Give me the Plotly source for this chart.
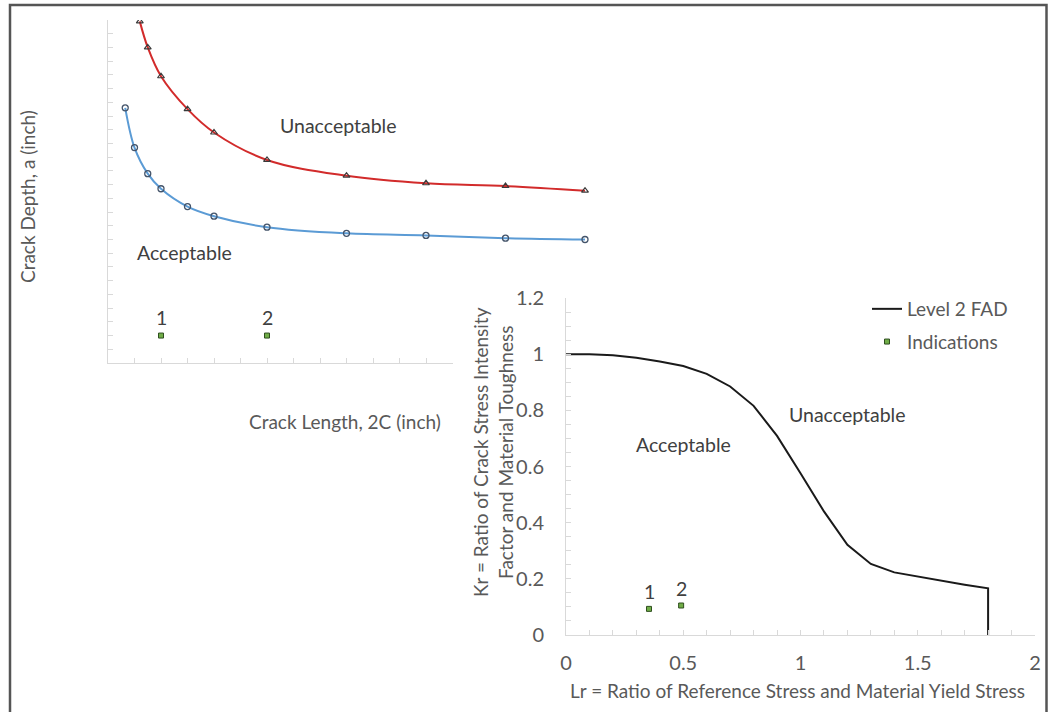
import plotly.graph_objects as go

W, H = 1053, 712

# ---------------- Chart 1: crack size acceptance curves ----------------
upper_len = [1.2, 1.5, 2, 3, 4, 6, 9, 12, 15, 18]
upper_depth = [0.249, 0.230, 0.209, 0.185, 0.168, 0.148, 0.1365, 0.131, 0.129, 0.1256]
lower_len = [0.65, 1, 1.5, 2, 3, 4, 6, 9, 12, 15, 18]
lower_depth = [0.186, 0.157, 0.138, 0.127, 0.114, 0.107, 0.099, 0.0945, 0.093, 0.091, 0.090]
ind1_len = [2, 6]
ind1_depth = [0.02, 0.02]
ind_labels = ["1", "2"]

# ---------------- Chart 2: Level 2 FAD ----------------
fad_lr = [0, 0.1, 0.2, 0.3, 0.4, 0.5, 0.6, 0.7, 0.8, 0.9, 1.0, 1.1, 1.2, 1.3, 1.4,
          1.5, 1.6, 1.7, 1.8, 1.8]
fad_kr = [1.0, 1.0, 0.996, 0.987, 0.974, 0.958, 0.930, 0.885, 0.816, 0.709, 0.576,
          0.440, 0.321, 0.253, 0.223, 0.208, 0.194, 0.179, 0.166, 0.0]
ind2_lr = [0.354, 0.491]
ind2_kr = [0.093, 0.105]

FONT = "Lato"
FS = 19
FS_TICK = 20
FS_ANN = 19.5
GRAY_TXT = "#595959"
DARK_TXT = "#404040"
AXIS_CLR = "#d9d9d9"


def px_x(v):
    return v / W


def px_y(v):
    return 1 - v / H


fig = go.Figure()

# chart 1 traces
fig.add_trace(go.Scatter(
    x=upper_len, y=upper_depth, mode="lines+markers", line_shape="spline",
    line=dict(color="#d22b2b", width=2),
    marker=dict(symbol="triangle-up-open", size=6, color="#3a3a3a", line=dict(width=1.2)),
    showlegend=False, xaxis="x", yaxis="y", hoverinfo="skip"))
fig.add_trace(go.Scatter(
    x=lower_len, y=lower_depth, mode="lines+markers", line_shape="spline",
    line=dict(color="#5b9bd5", width=2),
    marker=dict(symbol="circle-open", size=6, color="#44546a", line=dict(width=1.3)),
    showlegend=False, xaxis="x", yaxis="y", hoverinfo="skip"))
fig.add_trace(go.Scatter(
    x=ind1_len, y=ind1_depth, mode="markers",
    marker=dict(symbol="square", size=5, color="#70ad47", line=dict(color="#2f4f1f", width=1)),
    showlegend=False, xaxis="x", yaxis="y", hoverinfo="skip"))
# empty trace so the visible chart-1 length axis is drawn
fig.add_trace(go.Scatter(x=[], y=[], xaxis="x3", yaxis="y", showlegend=False))

# chart 2 traces
fig.add_trace(go.Scatter(
    x=fad_lr, y=fad_kr, mode="lines", name="Level 2 FAD",
    line=dict(color="#1a1a1a", width=2), xaxis="x2", yaxis="y2",
    legendgroup="fad"))
fig.add_trace(go.Scatter(
    x=ind2_lr, y=ind2_kr, mode="markers", name="Indications",
    marker=dict(symbol="square", size=5, color="#70ad47", line=dict(color="#2f4f1f", width=1)),
    xaxis="x2", yaxis="y2", legendgroup="ind"))

x1_left, x1_right = 108, 620
unit_x1 = 26.5
y1_bot, y1_top = 363, 20

common = dict(showline=True, linecolor=AXIS_CLR, linewidth=1, ticks="inside", ticklen=5,
              tickcolor=AXIS_CLR, showgrid=False, zeroline=False, automargin=False)

fig.update_layout(
    template="none",
    width=W, height=H,
    margin=dict(l=0, r=0, t=0, b=0, pad=0, autoexpand=False),
    paper_bgcolor="white", plot_bgcolor="rgba(0,0,0,0)",
    font=dict(family=FONT, color=GRAY_TXT, size=FS),
    xaxis=dict(domain=[px_x(x1_left), px_x(x1_right)],
               range=[0, (x1_right - x1_left) / unit_x1],
               visible=False, anchor="y", automargin=False),
    xaxis3=dict(domain=[px_x(x1_left), px_x(453)], range=[0, 13], anchor="y",
                dtick=1, showticklabels=False, **common),
    yaxis=dict(domain=[px_y(y1_bot), px_y(y1_top)], range=[0, 0.25], anchor="x",
               dtick=0.01, showticklabels=False, **common),
    xaxis2=dict(domain=[px_x(566), px_x(1035)], range=[0, 2], anchor="y2", dtick=0.5,
                minor=dict(dtick=0.1, ticks="inside", ticklen=5, tickcolor=AXIS_CLR),
                tickfont=dict(size=FS_TICK, color=GRAY_TXT), ticklabelstandoff=10,
                **common),
    yaxis2=dict(domain=[px_y(635), px_y(298)], range=[0, 1.2], anchor="x2", dtick=0.2,
                minor=dict(dtick=0.05, ticks="inside", ticklen=5, tickcolor=AXIS_CLR),
                tickfont=dict(size=FS_TICK, color=GRAY_TXT), ticklabelstandoff=17,
                tickformat="~g", **common),
    legend=dict(x=px_x(867), y=px_y(290), xanchor="left", yanchor="top",
                bgcolor="rgba(0,0,0,0)", borderwidth=0, font=dict(size=FS, color=GRAY_TXT),
                traceorder="grouped", tracegroupgap=5),
    showlegend=True,
)

ann = []


def text_ann(x, y, text, xref="paper", yref="paper", color=GRAY_TXT, size=FS, **kw):
    ann.append(dict(x=x, y=y, xref=xref, yref=yref, text=text, showarrow=False,
                    xanchor="center", yanchor="middle",
                    font=dict(size=size, color=color), **kw))


# chart 1 text
text_ann(8.69, 0.173, "Unacceptable", "x", "y", DARK_TXT, FS_ANN)
text_ann(2.9, 0.0807, "Acceptable", "x", "y", DARK_TXT, FS_ANN)
for xv, yv, t in zip(ind1_len, ind1_depth, ind_labels):
    text_ann(xv, yv, t, "x", "y", DARK_TXT, FS_ANN, yshift=18)
text_ann(px_x(345), px_y(421.5), "Crack Length, 2C (inch)")
text_ann(px_x(27), px_y(197), "Crack Depth, a (inch)", textangle=-90)
# chart 2 text
text_ann(1.2, 0.785, "Unacceptable", "x2", "y2", DARK_TXT, FS_ANN)
text_ann(0.5, 0.68, "Acceptable", "x2", "y2", DARK_TXT, FS_ANN)
for xv, yv, t in zip(ind2_lr, ind2_kr, ind_labels):
    text_ann(xv, yv, t, "x2", "y2", DARK_TXT, FS_ANN, yshift=17)
text_ann(px_x(797), px_y(690), "Lr = Ratio of Reference Stress and Material Yield Stress")
text_ann(px_x(493), px_y(452),
         "Kr = Ratio of Crack Stress Intensity<br>Factor and Material Toughness",
         textangle=-90)
fig.update_layout(annotations=ann)

# outer frame (top, left and right edges)
fig.add_shape(type="rect", xref="paper", yref="paper",
              x0=px_x(10), x1=px_x(1046.5), y0=-0.1, y1=px_y(5),
              line=dict(color="#555555", width=2.5), layer="above")

fig.write_html("out.html", config={"displayModeBar": False},
               post_script="document.body.style.margin='0';")
